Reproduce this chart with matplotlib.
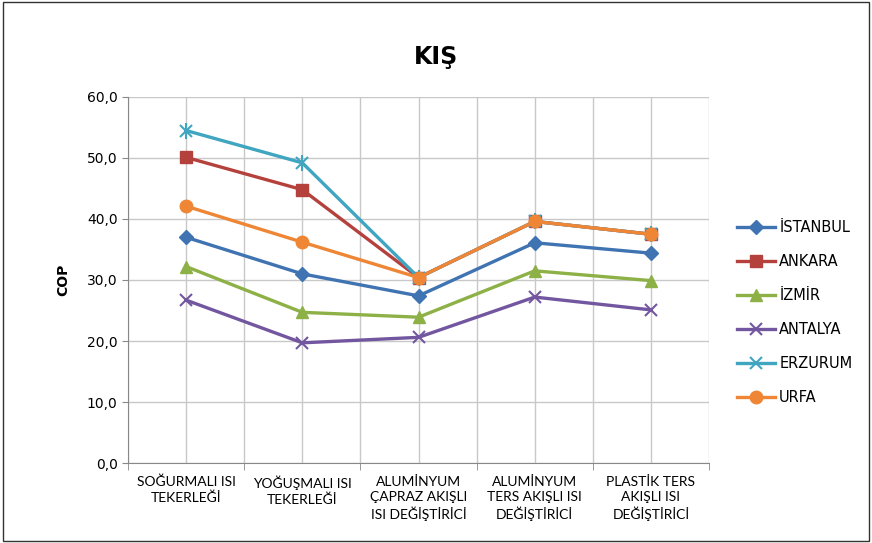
import matplotlib
matplotlib.use("Agg")
import matplotlib.pyplot as plt
from matplotlib.ticker import FuncFormatter, MultipleLocator
import numpy as np

categories = ["SOĞURMALI ISI\nTEKERLEĞİ", "YOĞUŞMALI ISI\nTEKERLEĞİ",
              "ALUMİNYUM\nÇAPRAZ AKIŞLI\nISI DEĞİŞTİRİCİ",
              "ALUMİNYUM\nTERS AKIŞLI ISI\nDEĞİŞTİRİCİ",
              "PLASTİK TERS\nAKIŞLI ISI\nDEĞİŞTİRİCİ"]
istanbul = [37.0, 31.0, 27.4, 36.1, 34.4]
ankara = [50.1, 44.8, 30.4, 39.6, 37.5]
izmir = [32.2, 24.7, 23.9, 31.5, 29.9]
antalya = [26.7, 19.7, 20.6, 27.2, 25.1]
erzurum = [54.5, 49.2, 30.4, 39.6, 37.5]
urfa = [42.1, 36.2, 30.4, 39.6, 37.5]

series = [
    ("İSTANBUL", istanbul, "#3F73B1", "D", 7),
    ("ANKARA", ankara, "#B5413D", "s", 9),
    ("İZMİR", izmir, "#8DB146", "^", 9),
    ("ANTALYA", antalya, "#7356A0", "x", 9),
    ("ERZURUM", erzurum, "#3FA5C0", "star", 9),
    ("URFA", urfa, "#EE8635", "o", 9),
]

fig = plt.figure(figsize=(8.72, 5.43), dpi=100)
ax = fig.add_axes([0.1468, 0.1473, 0.8131 - 0.1468, 0.8214 - 0.1473])

x = np.arange(len(categories))
for name, vals, col, mk, ms in series:
    if mk == "star":
        ax.plot(x, vals, color=col, lw=2.4, marker="x", ms=ms, mew=1.5, label=name, zorder=3)
        ax.plot(x, vals, color=col, lw=0, marker="|", ms=12, mew=1.5, zorder=3)
    elif mk == "x":
        ax.plot(x, vals, color=col, lw=2.4, marker=mk, ms=ms, mew=1.5, label=name, zorder=3)
    else:
        ax.plot(x, vals, color=col, lw=2.4, marker=mk, ms=ms, label=name, zorder=3)

ax.set_xlim(-0.5, len(categories) - 0.5)
ax.set_ylim(0, 60)
ax.yaxis.set_major_locator(MultipleLocator(10))
ax.yaxis.set_major_formatter(FuncFormatter(lambda v, p: f"{v:.1f}".replace(".", ",")))
ax.set_xticks(x)
ax.set_xticklabels(categories, fontsize=10, linespacing=1.3, family="Lato")
ax.set_xticks(np.arange(-0.5, len(categories), 1.0), minor=True)
ax.tick_params(axis="x", which="major", length=0, pad=9)
ax.tick_params(axis="x", which="minor", length=5, color="#888888")
ax.tick_params(axis="y", length=4, color="#888888", labelsize=10)

ax.grid(True, which="major", color="#C8C8C8", lw=1)
ax.grid(True, which="minor", axis="x", color="#C8C8C8", lw=1)
ax.set_axisbelow(True)
for s in ["top", "right"]:
    ax.spines[s].set_visible(False)
for s in ["left", "bottom"]:
    ax.spines[s].set_color("#888888")

ax.set_ylabel("COP", fontsize=10, fontweight="bold", labelpad=12)
fig.text(0.5, 0.895, "KIŞ", ha="center", va="center", fontsize=17, fontweight="bold")

leg = fig.legend(loc="center left", bbox_to_anchor=(0.83, 0.4245), frameon=False,
                 fontsize=10.5, labelspacing=1.3, handlelength=2.6, handletextpad=0.3)

fig.patches.append(plt.Rectangle((0.003, 0.003), 0.994, 0.994, transform=fig.transFigure,
                                 fill=False, edgecolor="#333333", lw=1))

fig.savefig("out.png", dpi=100)
